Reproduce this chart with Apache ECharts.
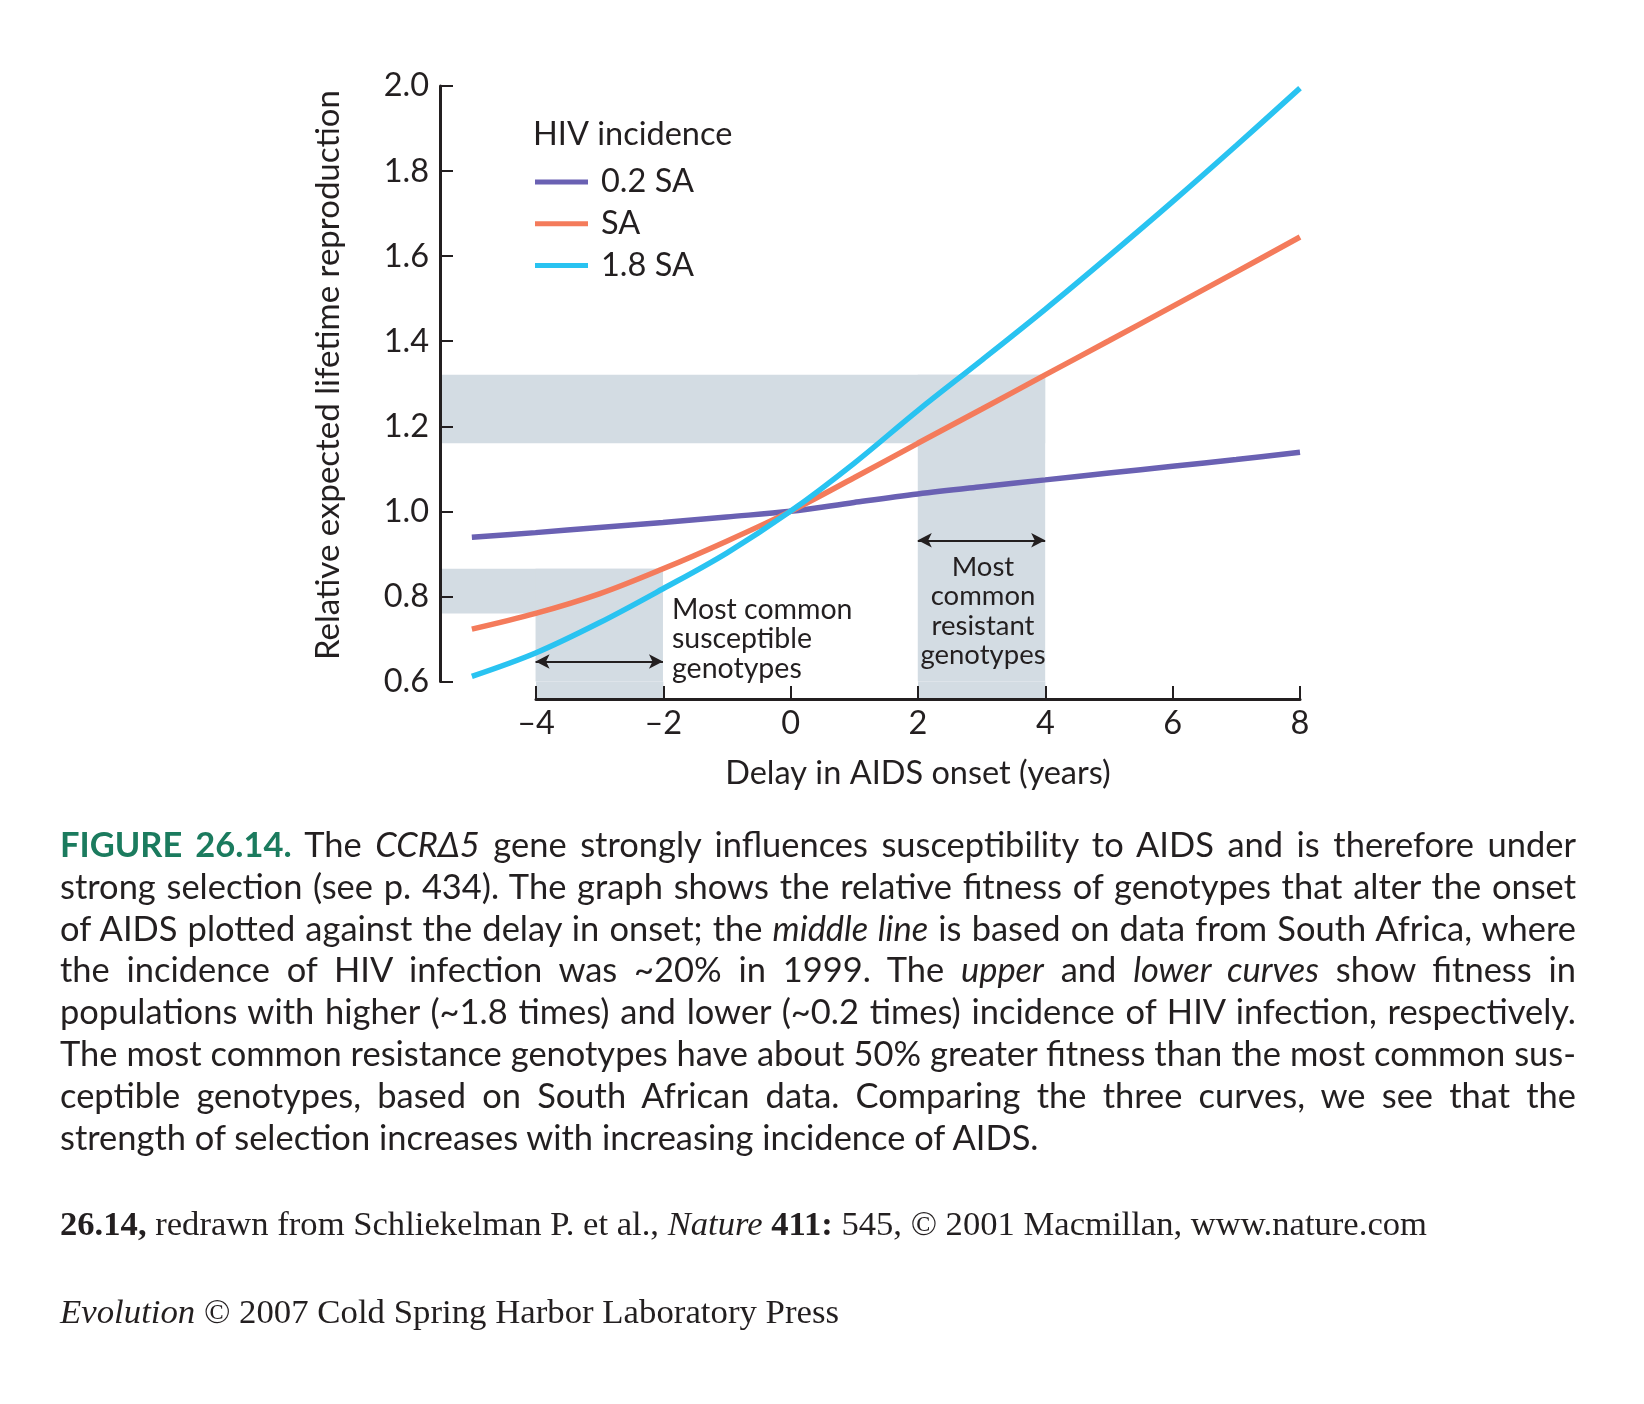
<!DOCTYPE html>
<html>
<head>
<meta charset="utf-8">
<script src="https://cdn.jsdelivr.net/npm/echarts@6/dist/echarts.min.js"></script>
<style>
html,body{margin:0;padding:0;background:#fff;}
#chart{position:absolute;left:0;top:0;width:1644px;height:1404px;}
#caption{position:absolute;left:60px;top:823px;transform-origin:0 0;font-family:Lato,"Open Sans",sans-serif;font-size:34px;line-height:41.8px;color:#231f20;width:5000px;}
#caption .ln{text-align:left;}
#caption.done .ln{text-align:justify;text-align-last:justify;}
#caption.done .ln.last{text-align:left;text-align-last:left;}
.g{color:#1b7b5e;font-weight:bold;}
.src{position:absolute;left:60px;font-family:"Liberation Serif","DejaVu Serif",serif;font-size:33px;line-height:40px;color:#231f20;white-space:nowrap;transform-origin:0 50%;}
</style>
</head>
<body>
<div id="chart"></div>
<div id="caption">
<div class="ln"><span><span class="g">FIGURE 26.14.</span> The <i>CCRΔ5</i> gene strongly influences susceptibility to AIDS and is therefore under</span></div>
<div class="ln"><span>strong selection (see p. 434). The graph shows the relative fitness of genotypes that alter the onset</span></div>
<div class="ln"><span>of AIDS plotted against the delay in onset; the <i>middle line</i> is based on data from South Africa, where</span></div>
<div class="ln"><span>the incidence of HIV infection was ~20% in 1999. The <i>upper</i> and <i>lower curves</i> show fitness in</span></div>
<div class="ln"><span>populations with higher (~1.8 times) and lower (~0.2 times) incidence of HIV infection, respectively.</span></div>
<div class="ln"><span>The most common resistance genotypes have about 50% greater fitness than the most common sus-</span></div>
<div class="ln"><span>ceptible genotypes, based on South African data. Comparing the three curves, we see that the</span></div>
<div class="ln last"><span>strength of selection increases with increasing incidence of AIDS.</span></div>
</div>
<div class="src" id="src1" data-w="1367" style="top:1204px;"><b>26.14,</b> redrawn from Schliekelman P. et al., <i>Nature</i> <b>411:</b> 545, © 2001 Macmillan, www.nature.com</div>
<div class="src" id="src2" data-w="779" style="top:1292px;"><i>Evolution</i> © 2007 Cold Spring Harbor Laboratory Press</div>
<script>
// ---- data ----
const delayYears = [-5, -4, -3, -2, -1, 0, 1, 2, 3, 4, 5, 6, 7, 8];
const fitnessLow = [0.939, 0.950, 0.962, 0.974, 0.987, 1.000, 1.021, 1.041, 1.058, 1.074, 1.090, 1.106, 1.122, 1.139];
const fitnessSA = [0.723, 0.760, 0.806, 0.865, 0.930, 1.000, 1.079, 1.160, 1.240, 1.321, 1.401, 1.482, 1.563, 1.645];
const fitnessHigh = [0.612, 0.667, 0.738, 0.818, 0.902, 1.000, 1.113, 1.237, 1.355, 1.475, 1.600, 1.728, 1.860, 1.995];
const seriesNames = ['0.2 SA', 'SA', '1.8 SA'];
const susceptibleDelay = [-4, -2];
const susceptibleFitness = [0.760, 0.865];
const resistantDelay = [2, 4];
const resistantFitness = [1.160, 1.321];
const arrowFitness = [0.647, 0.932];

// ---- styles ----
const ink = '#231f20';
const colors = ['#6a61b3', '#f47b5b', '#29c3f1'];
const bandColor = '#d3dce3';
const FONT = 'Lato, "Open Sans", sans-serif';
const FS = 32.5;

const chart = echarts.init(document.getElementById('chart'), null, {renderer: 'canvas'});
const pts = arr => delayYears.map((x, i) => [x, arr[i]]);

const option = {
  animation: false,
  backgroundColor: '#ffffff',
  textStyle: {fontFamily: FONT, color: ink},
  title: {
    text: 'HIV incidence', left: 533, top: 118, padding: 0,
    textStyle: {fontFamily: FONT, fontSize: FS, fontWeight: 'normal', color: ink, lineHeight: 33}
  },
  legend: {
    data: seriesNames, orient: 'vertical', left: 535, top: 165.5, padding: 0,
    icon: 'rect', itemWidth: 53, itemHeight: 5, itemGap: 8.8,
    textStyle: {fontFamily: FONT, fontSize: FS, color: ink, lineHeight: 32, padding: [0, 0, 0, 8]},
    selectedMode: false
  },
  grid: [
    {left: 440, top: 86, width: 860, height: 595.5},
    {left: 536, top: 681.5, width: 764, height: 17.5}
  ],
  xAxis: [
    {type: 'value', gridIndex: 0, min: -5.5, max: 8, show: false},
    {
      type: 'value', gridIndex: 1, min: -4, max: 8, interval: 2, z: 5,
      axisLine: {show: true, onZero: false, lineStyle: {color: ink, width: 3}},
      axisTick: {show: true, inside: true, length: 13, lineStyle: {color: ink, width: 2}},
      axisLabel: {margin: 8, fontSize: FS, fontFamily: FONT, color: ink,
        formatter: v => String(v).replace('-', '\u2013')},
      splitLine: {show: false},
      name: 'Delay in AIDS onset (years)', nameLocation: 'middle', nameGap: 58,
      nameTextStyle: {fontSize: FS, fontFamily: FONT, color: ink}
    }
  ],
  yAxis: [
    {
      type: 'value', gridIndex: 0, min: 0.6, max: 2.0, interval: 0.2, z: 5,
      axisLine: {show: true, onZero: false, lineStyle: {color: ink, width: 3}},
      axisTick: {show: true, inside: true, length: 13, lineStyle: {color: ink, width: 2}},
      axisLabel: {margin: 11, fontSize: FS, fontFamily: FONT, color: ink, formatter: v => v.toFixed(1)},
      splitLine: {show: false}
    },
    {type: 'value', gridIndex: 1, min: 0, max: 1, show: false}
  ],
  series: [
    {
      type: 'line', xAxisIndex: 0, yAxisIndex: 0, data: [], z: 1, silent: true,
      markArea: {
        silent: true, itemStyle: {color: bandColor},
        data: [
          [{coord: [-5.5, susceptibleFitness[0]]}, {coord: [susceptibleDelay[1], susceptibleFitness[1]]}],
          [{coord: [susceptibleDelay[0], 0.6]}, {coord: [susceptibleDelay[1], susceptibleFitness[1]]}],
          [{coord: [-5.5, resistantFitness[0]]}, {coord: [resistantDelay[1], resistantFitness[1]]}],
          [{coord: [resistantDelay[0], 0.6]}, {coord: [resistantDelay[1], resistantFitness[1]]}]
        ]
      }
    },
    {
      type: 'line', xAxisIndex: 1, yAxisIndex: 1, data: [], z: 1, silent: true,
      markArea: {
        silent: true, itemStyle: {color: bandColor},
        data: [
          [{coord: [susceptibleDelay[0], 0]}, {coord: [susceptibleDelay[1], 1]}],
          [{coord: [resistantDelay[0], 0]}, {coord: [resistantDelay[1], 1]}]
        ]
      }
    },
    ...[fitnessLow, fitnessSA, fitnessHigh].map((arr, i) => ({
      name: seriesNames[i], type: 'line', xAxisIndex: 0, yAxisIndex: 0,
      data: pts(arr), smooth: 0.35, showSymbol: false, z: 3,
      itemStyle: {color: colors[i]},
      lineStyle: {color: colors[i], width: 5.5, cap: 'butt'}
    })),
    {
      type: 'line', xAxisIndex: 0, yAxisIndex: 0, data: [], z: 4, silent: true,
      markLine: {
        silent: true, symbol: ['arrow', 'arrow'], symbolSize: [11, 14],
        label: {show: false},
        lineStyle: {color: ink, width: 2, type: 'solid'},
        data: [
          [{coord: [susceptibleDelay[0], arrowFitness[0]]}, {coord: [susceptibleDelay[1], arrowFitness[0]]}],
          [{coord: [resistantDelay[0], arrowFitness[1]]}, {coord: [resistantDelay[1], arrowFitness[1]]}]
        ]
      }
    }
  ],
  graphic: [
    {
      type: 'text', x: 328, y: 375, rotation: Math.PI / 2, z: 10,
      style: {text: 'Relative expected lifetime reproduction', fontSize: 33, fontFamily: FONT,
        fill: ink, align: 'center', verticalAlign: 'middle'}
    },
    {
      type: 'text', x: 672, y: 594.6, z: 10,
      style: {text: 'Most common\nsusceptible\ngenotypes', fontSize: 28.5, fontFamily: FONT,
        lineHeight: 29.5, fill: ink, align: 'left', verticalAlign: 'top'}
    },
    {
      type: 'text', x: 983, y: 552.3, z: 10,
      style: {text: 'Most\ncommon\nresistant\ngenotypes', fontSize: 27.5, fontFamily: FONT,
        lineHeight: 29.5, fill: ink, align: 'center', verticalAlign: 'top'}
    }
  ]
};
chart.setOption(option);

// ---- caption fitting (condensed, justified lines) ----
(function () {
  const cap = document.getElementById('caption');
  const lines = Array.from(cap.querySelectorAll('.ln'));
  const target = 1516;
  let s = Infinity;
  lines.forEach(l => {
    if (l.classList.contains('last')) return;
    const w = l.firstElementChild.getBoundingClientRect().width;
    s = Math.min(s, target / (w + 2));
  });
  cap.style.width = (target / s) + 'px';
  cap.style.transform = 'scaleX(' + s + ')';
  cap.classList.add('done');
  document.querySelectorAll('.src').forEach(el => {
    const w = el.getBoundingClientRect().width;
    el.style.transform = 'scaleX(' + (parseFloat(el.dataset.w) / w) + ')';
  });
})();
</script>
</body>
</html>
